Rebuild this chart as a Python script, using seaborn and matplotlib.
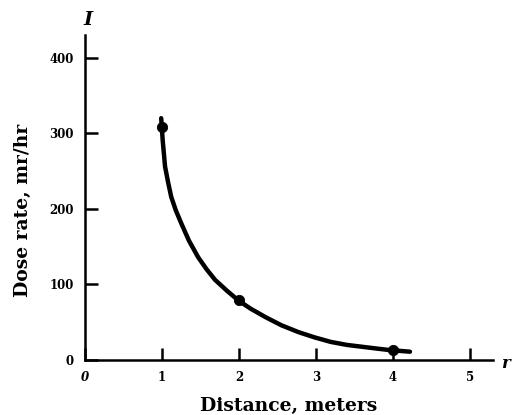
import pandas as pd
import matplotlib.pyplot as plt
import seaborn as sns

# curve (distance in m, dose rate in mr/hr)
curve_r = [0.99, 1.01, 1.04, 1.08, 1.12, 1.18, 1.25, 1.35, 1.47, 1.58, 1.69, 1.84,
           1.99, 2.15, 2.34, 2.55, 2.77, 2.98, 3.19, 3.40, 3.64, 3.80, 3.97, 4.10, 4.22]
curve_i = [320, 290, 256, 235, 216, 198, 181, 158, 136, 120, 106, 92,
           79, 68, 57, 46, 37, 30, 24, 20, 17, 15, 13, 12, 11]

# measured points
point_r = [1, 2, 4]
point_i = [309, 80, 13]

x_ticks = [0, 1, 2, 3, 4, 5]
y_ticks = [0, 100, 200, 300, 400]

sns.set_theme(style="ticks")
plt.rcParams['font.family'] = ['DejaVu Serif']
plt.rcParams['font.weight'] = 'bold'
plt.rcParams['text.color'] = 'black'
plt.rcParams['axes.labelcolor'] = 'black'
plt.rcParams['xtick.color'] = 'black'
plt.rcParams['ytick.color'] = 'black'

df_curve = pd.DataFrame({'r': curve_r, 'I': curve_i})
df_pts = pd.DataFrame({'r': point_r, 'I': point_i})

fig = plt.figure(figsize=(5.18, 4.15), dpi=100)
ax = fig.add_axes([0.164, 0.1325, 0.788, 0.783])

sns.lineplot(data=df_curve, x='r', y='I', color='black', linewidth=3.2, ax=ax)
sns.scatterplot(data=df_pts, x='r', y='I', color='black', s=55, edgecolor='black', ax=ax, zorder=3)

ax.set_xlim(0, 5.3)
ax.set_ylim(0, 430)
ax.set_xticks(x_ticks)
ax.set_yticks(y_ticks)
ax.set_xticklabels([str(t) for t in x_ticks])
ax.tick_params(direction='in', length=9, width=1.8, labelsize=8.5, pad=8, color='black', labelcolor='black')
for lab in ax.get_xticklabels() + ax.get_yticklabels():
    lab.set_fontweight('bold')
ax.get_xticklabels()[0].set_fontstyle('italic')

sns.despine(ax=ax)
ax.spines['left'].set_linewidth(1.8)
ax.spines['bottom'].set_linewidth(1.8)
ax.spines['left'].set_color('black')
ax.spines['bottom'].set_color('black')

ax.set_xlabel('Distance, meters', fontsize=13.5, fontweight='bold', labelpad=9, color='black')
ax.set_ylabel('Dose rate, mr/hr', fontsize=13.5, fontweight='bold', color='black')
ax.yaxis.set_label_coords(-0.13, 0.46)

fig.text(0.170, 0.952, 'I', fontsize=14, fontstyle='italic', fontweight='bold', ha='center', va='center')
fig.text(0.975, 0.125, 'r', fontsize=12, fontstyle='italic', fontweight='bold', ha='center', va='center')

fig.savefig('out.png', dpi=100, facecolor='white')
